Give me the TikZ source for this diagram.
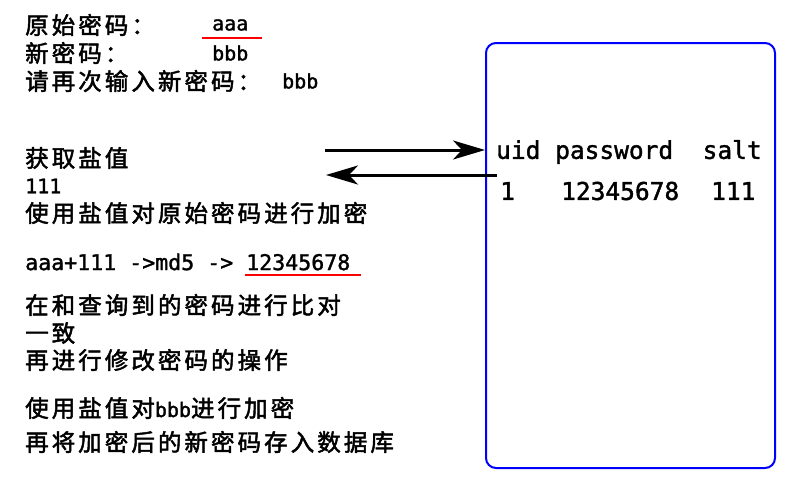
\documentclass[tikz,border=0pt]{standalone}
\usepackage{fontspec}
\usetikzlibrary{arrows.meta}
\newfontfamily\cjk[LetterSpace=13,FakeBold=2]{Noto Sans CJK SC}
\newfontfamily\mono[FakeBold=1.5]{DejaVu Sans Mono}
\begin{document}
\begin{tikzpicture}[x=1pt,y=-1pt,
  cn/.style={anchor=west,inner sep=0pt,font=\cjk\fontsize{23.5}{25}\selectfont},
  mn/.style={anchor=west,inner sep=0pt,font=\mono\fontsize{20}{22}\selectfont},
  tb/.style={anchor=west,inner sep=0pt,font=\mono\fontsize{24.5}{26}\selectfont},
  arr/.style={line width=3pt,-{Stealth[length=32pt,width=19pt,inset=9pt]}},
  redline/.style={red,line width=2.5pt}]
\useasboundingbox (0,0) rectangle (800,499);
% database box
\node[draw=blue,line width=2pt,rounded corners=10pt,minimum width=289pt,minimum height=425pt,inner sep=0pt] (db) at (630.5,255.5) {};
% left texts
\node[cn] (t1) at (25,25) {原始密码：};
\node[mn] (aaa) at (212,25) {aaa};
\node[cn] (t2) at (25,53) {新密码：};
\node[mn] (bbb1) at (212,53) {bbb};
\node[cn] (t3) at (25,81) {请再次输入新密码：};
\node[mn] (bbb2) at (282,81) {bbb};
\node[cn] (t4) at (25,158) {获取盐值};
\node[mn] (salt) at (25,186) {111};
\node[cn] (t5) at (25,213) {使用盐值对原始密码进行加密};
\node[anchor=west,inner sep=0pt,font=\mono\fontsize{21.6}{24}\selectfont] (md5) at (25,262) {aaa+111 ->md5 -> 12345678};
\node[cn] (t6) at (25,305) {在和查询到的密码进行比对};
\node[cn] (t7) at (25,333) {一致};
\node[cn] (t8) at (25,360) {再进行修改密码的操作};
\node[cn] (t9) at (25,408) {使用盐值对{\mono\fontsize{20}{22}\selectfont bbb}进行加密};
\node[cn] (t10) at (25,442) {再将加密后的新密码存入数据库};
% table
\node[tb] (hdr) at (496,152) {uid password\ \ salt};
\node[tb] (uid) at (500,191) {1};
\node[tb] (pw) at (561,191) {12345678};
\node[tb] (sv) at (711,191) {111};
% underlines
\coordinate (u1a) at (202,38); \coordinate (u1b) at (262,38);
\draw[redline] (u1a) -- (u1b);
\coordinate (u2a) at (245,275); \coordinate (u2b) at (361,275);
\draw[redline] (u2a) -- (u2b);
% arrows
\coordinate (a1) at (325,150);
\draw[arr] (a1) -- (a1 -| db.west);
\coordinate (a2) at (497,175);
\coordinate (a2e) at (326,175);
\draw[arr] (a2) -- (a2e);
\end{tikzpicture}
\end{document}
